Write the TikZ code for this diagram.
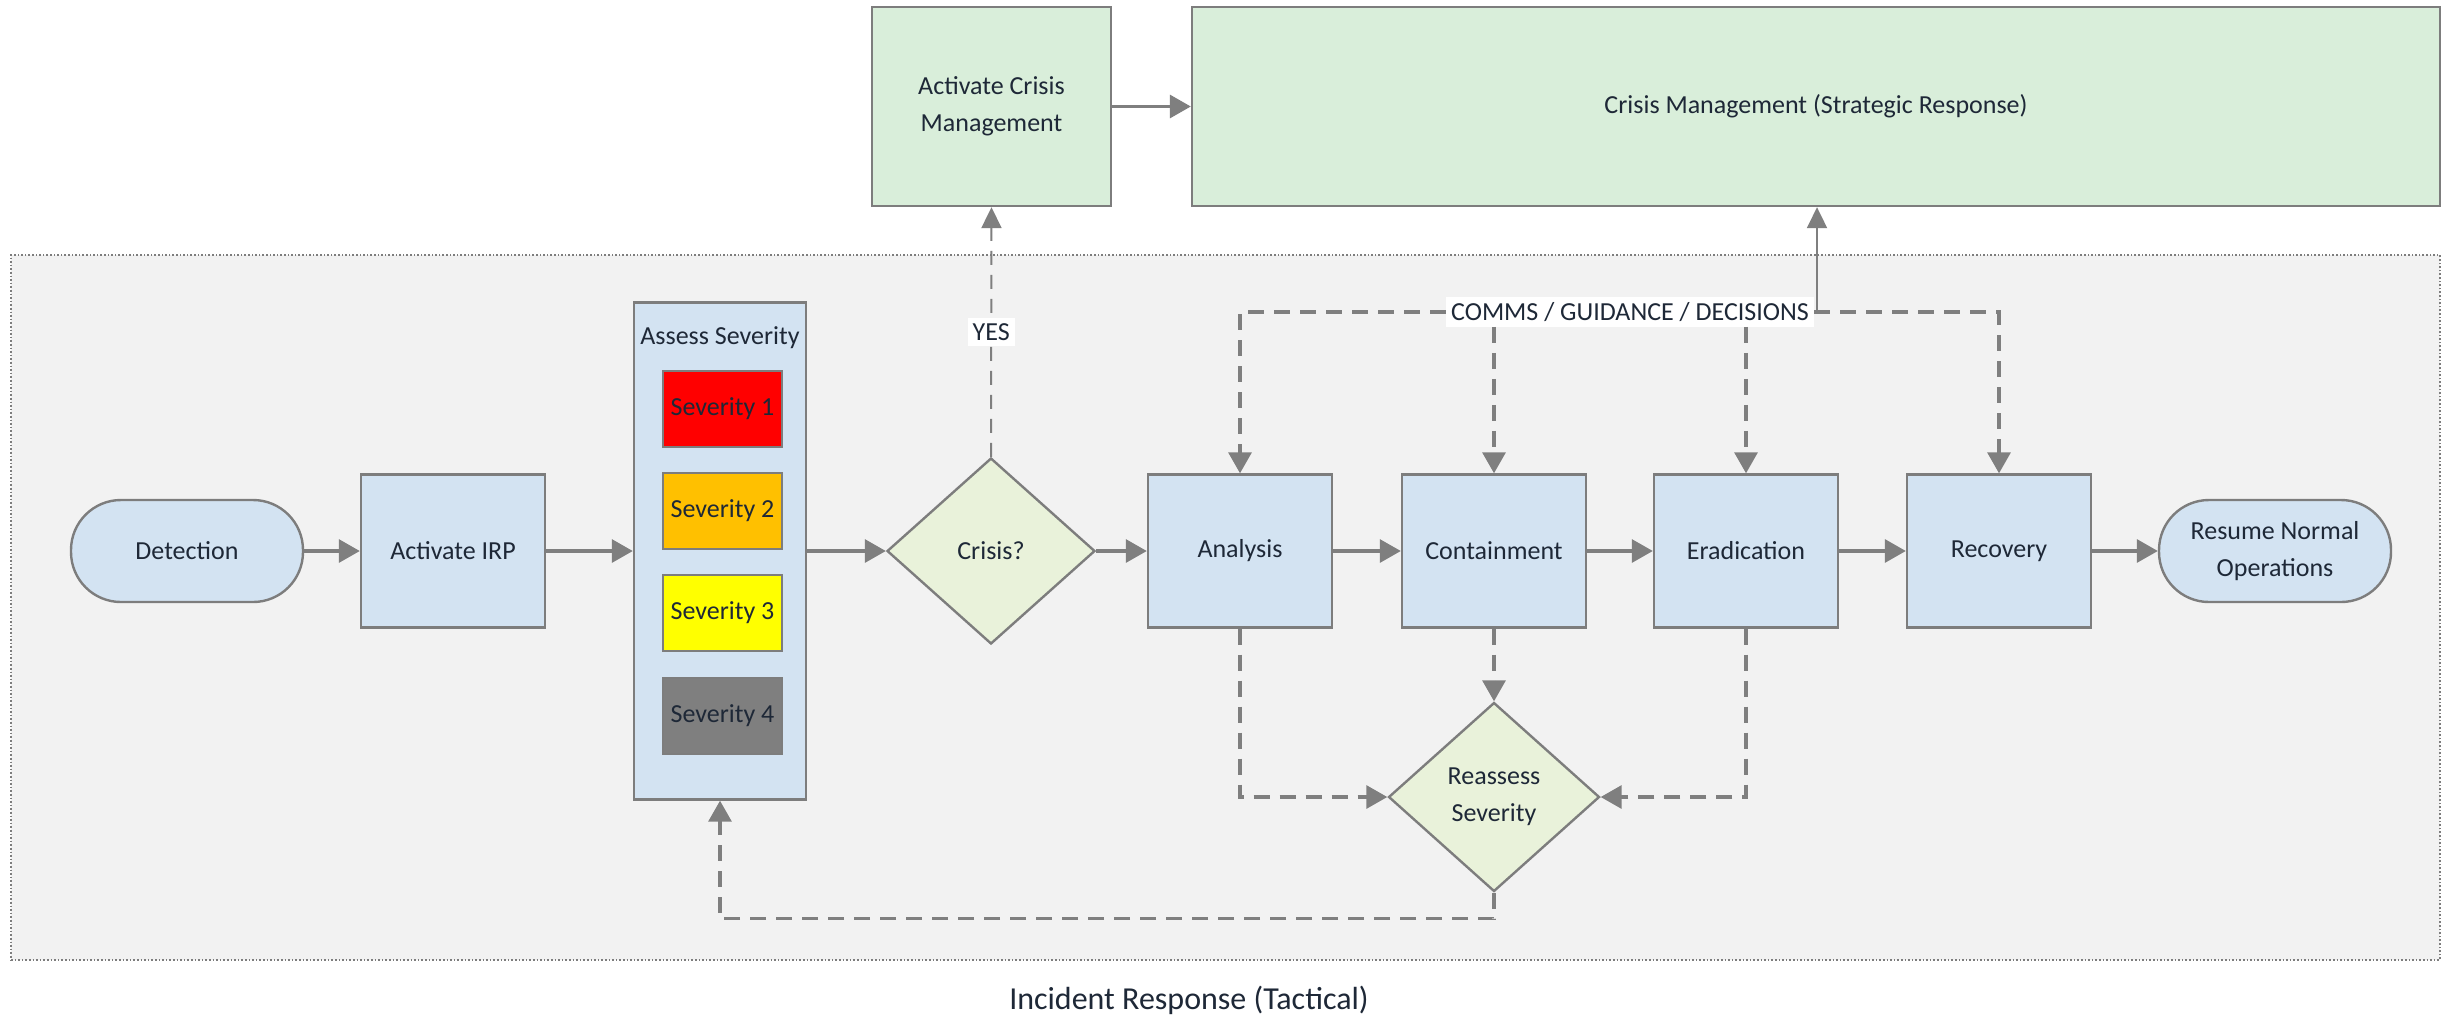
\documentclass[tikz,border=0pt]{standalone}
\usepackage{fontspec}
\setmainfont{Carlito}
\usetikzlibrary{shapes.geometric,arrows.meta}

\definecolor{boxblue}{RGB}{211,227,242}
\definecolor{boxgreen}{RGB}{217,238,218}
\definecolor{decgreen}{RGB}{233,242,218}
\definecolor{panelgrey}{RGB}{242,242,242}
\definecolor{edgegrey}{RGB}{125,125,125}
\definecolor{linegrey}{RGB}{127,127,127}
\definecolor{inktext}{RGB}{30,40,55}
\definecolor{sevred}{RGB}{255,0,0}
\definecolor{sevorange}{RGB}{255,192,0}
\definecolor{sevyellow}{RGB}{255,255,0}
\definecolor{sevgrey}{RGB}{127,127,127}

\begin{document}
\begin{tikzpicture}[x=0.5pt,y=-0.5pt,
  nodebase/.style={draw=edgegrey, line width=1.2pt, text=inktext, align=center,
    font=\fontsize{13}{18.5}\selectfont, inner sep=2pt},
  procbox/.style={nodebase, rectangle, fill=boxblue, minimum width=92pt, minimum height=76.5pt},
  terminal/.style={nodebase, rectangle, rounded corners=25pt, fill=boxblue,
    minimum width=116pt, minimum height=51pt},
  crisisbox/.style={nodebase, rectangle, fill=boxgreen, minimum height=99.5pt},
  decision/.style={nodebase, diamond, fill=decgreen, minimum width=104pt,
    minimum height=93pt, inner sep=0pt},
  sevbox/.style={nodebase, rectangle, minimum width=59.5pt, minimum height=38pt},
  flowarrow/.style={draw=linegrey, line width=1.6pt, -{Triangle[length=10.5pt,width=11.5pt]}},
  dashflow/.style={flowarrow, dash pattern=on 8pt off 5pt},
  dashline/.style={draw=linegrey, line width=1.6pt, dash pattern=on 8pt off 5pt},
  thinflow/.style={draw=linegrey, line width=1pt, -{Triangle[length=10.5pt,width=10pt]}},
  labeltag/.style={fill=white, text=inktext, font=\fontsize{13}{15}\selectfont, inner sep=2.5pt}
]
\fill[white] (0,0) rectangle (2450,1019);
\useasboundingbox (0,0) rectangle (2450,1019);

% tactical panel
\node[draw=edgegrey, densely dotted, line width=0.8pt, fill=panelgrey,
      minimum width=1214.5pt, minimum height=352.5pt, inner sep=0pt]
      (panel) at (1225.5,607.5) {};
\node[text=inktext, font=\fontsize{16}{19}\selectfont] (irlabel) at (1189,1000)
      {Incident Response (Tactical)};

% strategic layer
\node[crisisbox, minimum width=119.5pt] (acm) at (991.5,106.5) {Activate Crisis\\Management};
\node[crisisbox, minimum width=624pt] (cm) at (1816,106.5) {Crisis Management (Strategic Response)};

% main flow
\node[terminal] (det) at (187,551) {Detection};
\node[procbox] (irp) at (453,551) {Activate IRP};
\node[nodebase, fill=boxblue, minimum width=86pt, minimum height=248.5pt] (assess) at (720,551) {};
\node[text=inktext, font=\fontsize{13}{15}\selectfont] (assesstitle) at (720,338) {Assess Severity};
\node[sevbox, fill=sevred] (sev1) at (722.5,409) {Severity 1};
\node[sevbox, fill=sevorange] (sev2) at (722.5,511) {Severity 2};
\node[sevbox, fill=sevyellow] (sev3) at (722.5,613) {Severity 3};
\node[sevbox, fill=sevgrey] (sev4) at (722.5,716) {Severity 4};
\node[decision] (crisis) at (991,551) {Crisis?};
\node[procbox] (analysis) at (1240,551) {Analysis};
\node[procbox] (containment) at (1494,551) {Containment};
\node[procbox] (eradication) at (1746,551) {Eradication};
\node[procbox] (recovery) at (1999,551) {Recovery};
\node[terminal] (resume) at (2275,551) {Resume Normal\\Operations};
\node[decision, minimum width=105.5pt, minimum height=94.5pt] (reassess) at (1494,797) {Reassess\\Severity};

% solid flow
\draw[flowarrow] (det.east) -- (irp.west);
\draw[flowarrow] (irp.east) -- (assess.west);
\draw[flowarrow] (assess.east) -- (crisis.west);
\draw[flowarrow] (crisis.east) -- (analysis.west);
\draw[flowarrow] (analysis.east) -- (containment.west);
\draw[flowarrow] (containment.east) -- (eradication.west);
\draw[flowarrow] (eradication.east) -- (recovery.west);
\draw[flowarrow] (recovery.east) -- (resume.west);
\draw[flowarrow] (acm.east) -- (cm.west);

% escalation
\draw[thinflow, dash pattern=on 7pt off 5pt] (crisis.north) -- node[labeltag] (yes) {YES} (acm.south);

% communications bus
\node[labeltag] (comms) at (1630,312) {COMMS / GUIDANCE / DECISIONS};
\coordinate (bus) at (1817,312);
\draw[thinflow] (bus) -- (bus |- cm.south);
\draw[dashflow] (comms.west) -| (analysis.north);
\draw[dashflow] (comms.east) -| (recovery.north);
\draw[dashflow] (containment |- comms.south) -- (containment.north);
\draw[dashflow] (eradication |- comms.south) -- (eradication.north);

% reassessment loop
\draw[dashflow] (analysis.south) |- (reassess.west);
\draw[dashflow] (eradication.south) |- (reassess.east);
\draw[dashflow] (containment.south) -- (reassess.north);
\draw[dashflow] (reassess.south) -- ++(0,26) -| (assess.south);
\end{tikzpicture}
\end{document}
